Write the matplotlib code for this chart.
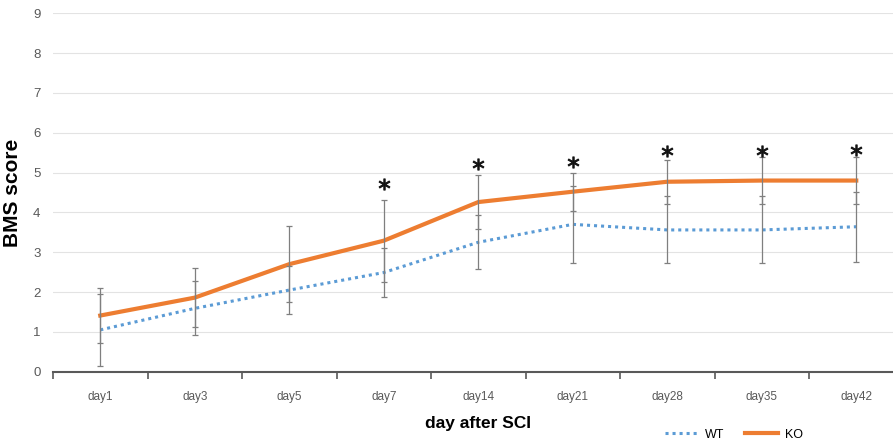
import numpy as np
import matplotlib
matplotlib.use("Agg")
import matplotlib.pyplot as plt

days = ["day1", "day3", "day5", "day7", "day14", "day21", "day28", "day35", "day42"]
wt_mean = [1.05, 1.59, 2.05, 2.49, 3.25, 3.70, 3.56, 3.56, 3.64]
wt_err = [0.90, 0.68, 0.60, 0.62, 0.68, 0.96, 0.84, 0.84, 0.88]
ko_mean = [1.41, 1.86, 2.70, 3.29, 4.26, 4.52, 4.77, 4.80, 4.80]
ko_err = [0.70, 0.74, 0.96, 1.03, 0.68, 0.48, 0.55, 0.60, 0.60]
star_idx = [3, 4, 5, 6, 7, 8]
star_y = [4.72, 5.22, 5.27, 5.53, 5.53, 5.57]

narrow = ["Liberation Sans Narrow", "Liberation Sans", "DejaVu Sans"]
bold = ["Liberation Sans", "DejaVu Sans"]

fig = plt.figure(figsize=(8.93, 4.45), dpi=100)
ax = fig.add_axes([53 / 893, 73.3 / 445, 850.5 / 893, 358.4 / 445])

x = np.arange(len(days))
blue = "#5B9BD5"
orange = "#ED7D31"
gray = "#7f7f7f"

ax.plot(x, wt_mean, color=blue, lw=2.2, linestyle=(0, (1, 1.3)), label="WT", zorder=3)
ax.plot(x, ko_mean, color=orange, lw=3.0, solid_joinstyle="round", label="KO", zorder=3)
ax.errorbar(x, wt_mean, yerr=wt_err, fmt="none", ecolor=gray, elinewidth=0.9,
            capsize=2.3, capthick=0.9, zorder=4)
ax.errorbar(x, ko_mean, yerr=ko_err, fmt="none", ecolor=gray, elinewidth=0.9,
            capsize=2.3, capthick=0.9, zorder=4)
ax.scatter(x[star_idx], star_y, marker="$*$", s=65, color="#111111", zorder=5,
           linewidths=0.7, edgecolors="#111111")

ax.set_xlim(-0.5, len(days) - 0.5)
ax.set_ylim(0, 9)
ax.set_yticks(range(0, 10))
ax.set_xticks(x)
ax.set_xticklabels(days)
ax.set_xticks(np.arange(-0.5, len(days)), minor=True)
ax.tick_params(axis="x", which="major", length=0, pad=14, labelsize=8.5, labelcolor="#595959")
ax.tick_params(axis="x", which="minor", length=5, width=1.2, color="#595959", direction="out")
ax.tick_params(axis="y", length=0, pad=9, labelsize=9.5, labelcolor="#595959")
for lab in ax.get_xticklabels() + ax.get_yticklabels():
    lab.set_family(narrow)

ax.grid(axis="y", color="#e3e3e3", lw=0.8)
ax.set_axisbelow(True)
for s in ["top", "right", "left"]:
    ax.spines[s].set_visible(False)
ax.spines["bottom"].set_color("#595959")
ax.spines["bottom"].set_linewidth(1.5)

ax.set_xlabel("day after SCI", family=narrow, fontweight="bold", fontsize=12.5, labelpad=9)
ax.set_ylabel("BMS score", family=bold, fontweight="bold", fontsize=15, labelpad=8)

fig.legend(loc="center", bbox_to_anchor=(0.822, 0.023), ncol=2, frameon=False,
           handlelength=2.6, handletextpad=0.6, columnspacing=1.7,
           prop={"family": narrow, "size": 9})

fig.savefig("out.png", dpi=100)
